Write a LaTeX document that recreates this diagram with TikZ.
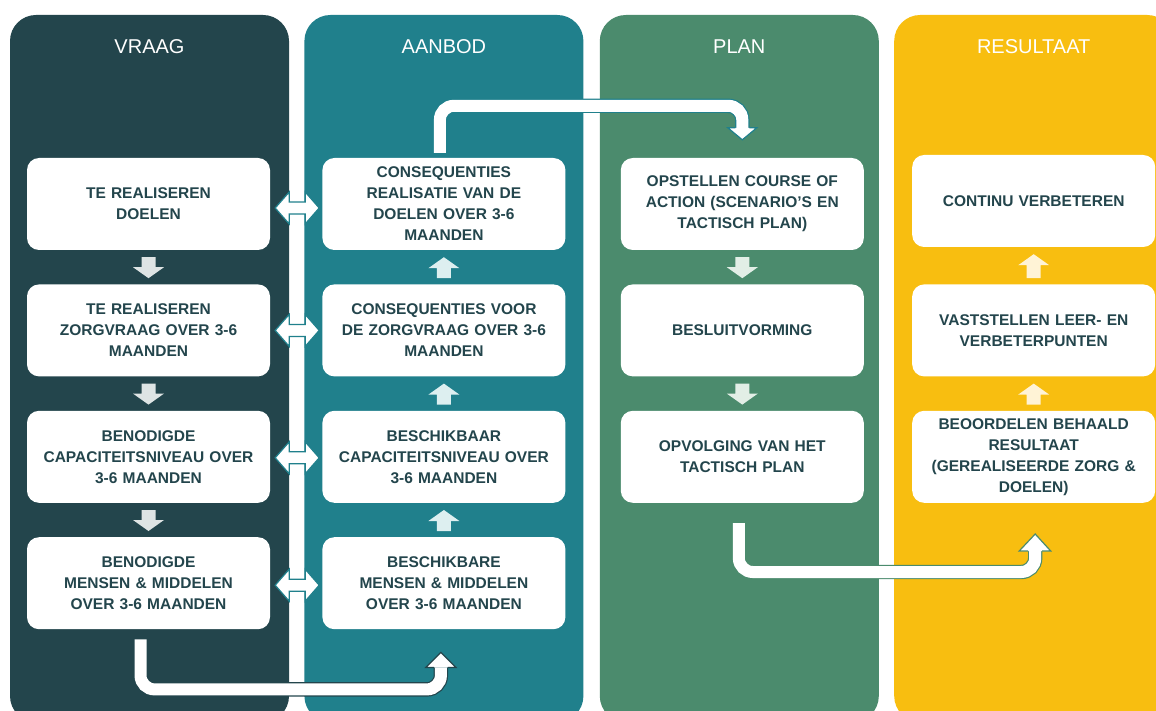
\documentclass[tikz,border=0pt]{standalone}
\usepackage{fontspec}
\setmainfont{Liberation Sans}
\usetikzlibrary{positioning}
\definecolor{vraag}{RGB}{35,69,76}
\definecolor{aanbod}{RGB}{32,128,140}
\definecolor{plan}{RGB}{75,139,109}
\definecolor{resultaat}{RGB}{248,190,16}
\definecolor{vraaglicht}{RGB}{222,228,228}
\definecolor{aanbodlicht}{RGB}{221,239,240}
\definecolor{planlicht}{RGB}{226,238,230}
\definecolor{resultaatlicht}{RGB}{255,243,214}

\begin{document}
\begin{tikzpicture}[x=1pt, y=1pt, node distance=34pt,
	kolom/.style={rectangle, rounded corners=26pt, minimum width=279pt, minimum height=707pt, inner sep=0pt},
	kop/.style={text=white, inner sep=0pt, font=\fontsize{20}{24}\selectfont},
	blok/.style={rectangle, rounded corners=12pt, fill=white, minimum width=243pt, minimum height=92pt, text width=235pt, align=center, inner sep=0pt, text=vraag, font=\fontsize{15.5}{21}\selectfont\bfseries},
	pijl/.style={draw=#1, line width=1.2pt, double=white, double distance=12pt, rounded corners=14pt},
	punt/.style={fill=white, draw=#1, line width=1.2pt},
	duo/.style={fill=white, draw=aanbod, line width=1.2pt}]
			\fill[white] (0,0) rectangle (1156,-711);
			\useasboundingbox (0,0) rectangle (1156,-711);
			\node (kv) [kolom, fill=vraag] at (149.5,-368.5) {};
			\node (ka) [kolom, fill=aanbod, right=15pt of kv] {};
			\node (kp) [kolom, fill=plan, right=16pt of ka] {};
			\node (kr) [kolom, fill=resultaat, right=15pt of kp] {};
			\node (tv) [kop] at ([yshift=-32pt]kv.north) {VRAAG};
			\node (ta) [kop] at ([yshift=-32pt]ka.north) {AANBOD};
			\node (tp) [kop] at ([yshift=-32pt]kp.north) {PLAN};
			\node (tr) [kop] at ([yshift=-32pt]kr.north) {RESULTAAT};
			
			\node (v1) [blok] at (148.5,-204) {TE REALISEREN\\DOELEN};
			\node (v2) [blok, below=of v1] {TE REALISEREN\\ZORGVRAAG OVER 3-6\\MAANDEN};
			\node (v3) [blok, below=of v2] {BENODIGDE\\CAPACITEITSNIVEAU OVER\\3-6 MAANDEN};
			\node (v4) [blok, below=of v3] {BENODIGDE\\MENSEN \& MIDDELEN\\OVER 3-6 MAANDEN};
			\node (a1) [blok, right=52pt of v1] {CONSEQUENTIES\\REALISATIE VAN DE\\DOELEN OVER 3-6\\MAANDEN};
			\node (a2) [blok, below=of a1] {CONSEQUENTIES VOOR\\DE ZORGVRAAG OVER 3-6\\MAANDEN};
			\node (a3) [blok, below=of a2] {BESCHIKBAAR\\CAPACITEITSNIVEAU OVER\\3-6 MAANDEN};
			\node (a4) [blok, below=of a3] {BESCHIKBARE\\MENSEN \& MIDDELEN\\OVER 3-6 MAANDEN};
			\node (p1) [blok, right=55pt of a1] {OPSTELLEN COURSE OF\\ACTION (SCENARIO’S EN\\TACTISCH PLAN)};
			\node (p2) [blok, below=of p1] {BESLUITVORMING};
			\node (p3) [blok, below=of p2] {OPVOLGING VAN HET\\TACTISCH PLAN};
			\node (r1) [blok, right=48pt of p1, yshift=3pt] {CONTINU VERBETEREN};
			\node (r2) [blok, right=48pt of p2] {VASTSTELLEN LEER- EN\\VERBETERPUNTEN};
			\node (r3) [blok, right=48pt of p3] {BEOORDELEN BEHAALD\\RESULTAAT\\(GEREALISEERDE ZORG \&\\DOELEN)};
			
			\foreach \a/\b/\c in {v1/v2/vraaglicht, v2/v3/vraaglicht, v3/v4/vraaglicht, p1/p2/planlicht, p2/p3/planlicht}
				\fill[\c] ([xshift=-7pt,yshift=-7pt]\a.south) -- ([xshift=7pt,yshift=-7pt]\a.south) -- ([xshift=7pt,yshift=17pt]\b.north) -- ([xshift=15.5pt,yshift=17pt]\b.north) -- ([yshift=6pt]\b.north) -- ([xshift=-15.5pt,yshift=17pt]\b.north) -- ([xshift=-7pt,yshift=17pt]\b.north) -- cycle;
			\foreach \a/\b/\c in {a2/a1/aanbodlicht, a3/a2/aanbodlicht, a4/a3/aanbodlicht, r3/r2/resultaatlicht, r2/r1/resultaatlicht}
				\fill[\c] ([xshift=-7pt,yshift=6pt]\a.north) -- ([xshift=7pt,yshift=6pt]\a.north) -- ([xshift=7pt,yshift=-18pt]\b.south) -- ([xshift=15.5pt,yshift=-18pt]\b.south) -- ([yshift=-7pt]\b.south) -- ([xshift=-15.5pt,yshift=-18pt]\b.south) -- ([xshift=-7pt,yshift=-18pt]\b.south) -- cycle;
			\foreach \i/\dy in {1/-4, 2/0, 3/-1, 4/-2}
				\filldraw[duo] ([xshift=5pt,yshift=\dy pt]v\i.east) -- ++(14,16) -- ++(0,-10) -- ++(16,0) -- ++(0,10) -- ++(14,-16) -- ++(-14,-16) -- ++(0,10) -- ++(-16,0) -- ++(0,-10) -- cycle;
			
			\draw[pijl=aanbod] ([xshift=-4pt,yshift=5pt]a1.north) |- ([yshift=52pt]p1.north) -- ([yshift=30pt]p1.north);
			\filldraw[punt=aanbod] ([xshift=-7pt,yshift=30pt]p1.north) -- ++(-7.5,0) -- ([yshift=18pt]p1.north) -- ([xshift=14.5pt,yshift=30pt]p1.north) -- ++(-7.5,0);
			\draw[pijl=vraag] ([xshift=-8pt,yshift=-10pt]v4.south) |- ([xshift=-3pt,yshift=-60pt]a4.south) -- ([xshift=-3pt,yshift=-38pt]a4.south);
			\filldraw[punt=vraag] ([xshift=-10pt,yshift=-38pt]a4.south) -- ++(-8,0) -- ([xshift=-3pt,yshift=-23pt]a4.south) -- ([xshift=12pt,yshift=-38pt]a4.south) -- ++(-8,0);
			\draw[pijl=plan] ([xshift=-3.5pt,yshift=-20pt]p3.south) |- ([xshift=1.5pt,yshift=-69pt]r3.south) -- ([xshift=1.5pt,yshift=-48pt]r3.south);
			\filldraw[punt=plan] ([xshift=-5.5pt,yshift=-48pt]r3.south) -- ++(-9,0) -- ([xshift=1.5pt,yshift=-31pt]r3.south) -- ([xshift=17pt,yshift=-48pt]r3.south) -- ++(-8.5,0);
		\end{tikzpicture}
\end{document}
